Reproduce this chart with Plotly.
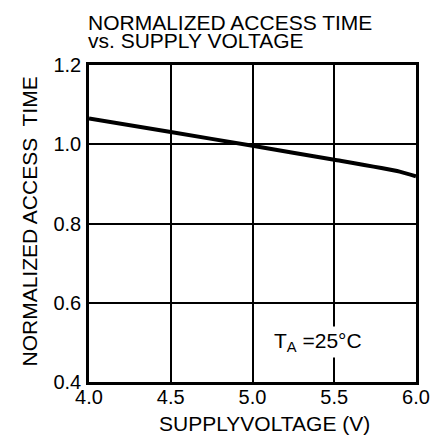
import plotly.graph_objects as go

voltage = [4.0, 4.5, 5.0, 5.5, 5.9, 6.0]
access_time = [1.065, 1.031, 0.996, 0.961, 0.931, 0.919]

x_ticks = [4.0, 4.5, 5.0, 5.5, 6.0]
x_tick_labels = ["4.0", "4.5", "5.0", "5.5", "6.0"]
y_ticks = [0.4, 0.6, 0.8, 1.0, 1.2]
y_tick_labels = ["0.4", "0.6", "0.8", "1.0", "1.2"]

title_lines = ["NORMALIZED ACCESS TIME", "vs. SUPPLY VOLTAGE"]

FONT = "Liberation Sans, Arial, Helvetica, sans-serif"

fig = go.Figure()
fig.add_trace(go.Scatter(x=voltage, y=access_time, mode="lines",
                         line=dict(color="black", width=4, shape="spline", smoothing=0.6),
                         showlegend=False, hoverinfo="skip"))

# in-plot label
fig.add_annotation(x=5.40, y=0.50, xref="x", yref="y",
                   text="T<sub>A</sub> =25°C", showarrow=False,
                   bgcolor="white", borderpad=2,
                   font=dict(family=FONT, size=21, color="black"))

# chart title (two lines, tight spacing)
for line_text, shift in zip(title_lines, [43, 25]):
    fig.add_annotation(x=0, y=1, xref="paper", yref="paper", xanchor="left", yanchor="middle",
                       xshift=-3, yshift=shift, align="left",
                       text=line_text, showarrow=False,
                       font=dict(family=FONT, size=21, color="black"))

# x axis title
fig.add_annotation(x=0.5, y=0, xref="paper", yref="paper", xanchor="center", yanchor="middle",
                   xshift=12, yshift=-41, text="SUPPLYVOLTAGE (V)", showarrow=False,
                   font=dict(family=FONT, size=21, color="black"))

# y axis title
fig.add_annotation(x=0, y=0.5, xref="paper", yref="paper", xanchor="center", yanchor="middle",
                   xshift=-60, yshift=2, textangle=-90,
                   text="NORMALIZED ACCESS\u00a0 TIME", showarrow=False,
                   font=dict(family=FONT, size=21, color="black"))

fig.update_layout(
    width=436, height=447,
    margin=dict(l=89, r=20, t=65, b=65),
    paper_bgcolor="white", plot_bgcolor="white",
    font=dict(family=FONT, color="black", size=20),
    xaxis=dict(range=[4.0, 6.0], tickvals=x_ticks, ticktext=x_tick_labels,
               showgrid=True, gridcolor="black", gridwidth=2,
               showline=True, linecolor="black", linewidth=2.5, mirror=True,
               zeroline=False, ticks="", ticklen=0, automargin=False,
               ticklabelstandoff=-5,
               tickfont=dict(size=20)),
    yaxis=dict(range=[0.4, 1.2], tickvals=y_ticks, ticktext=y_tick_labels,
               showgrid=True, gridcolor="black", gridwidth=2,
               showline=True, linecolor="black", linewidth=2.5, mirror=True,
               zeroline=False, ticks="", ticklen=0, automargin=False,
               ticklabelstandoff=1,
               tickfont=dict(size=20)),
)

fig.write_html("out.html", config={"displayModeBar": False},
               post_script="document.body.style.margin='0';")
